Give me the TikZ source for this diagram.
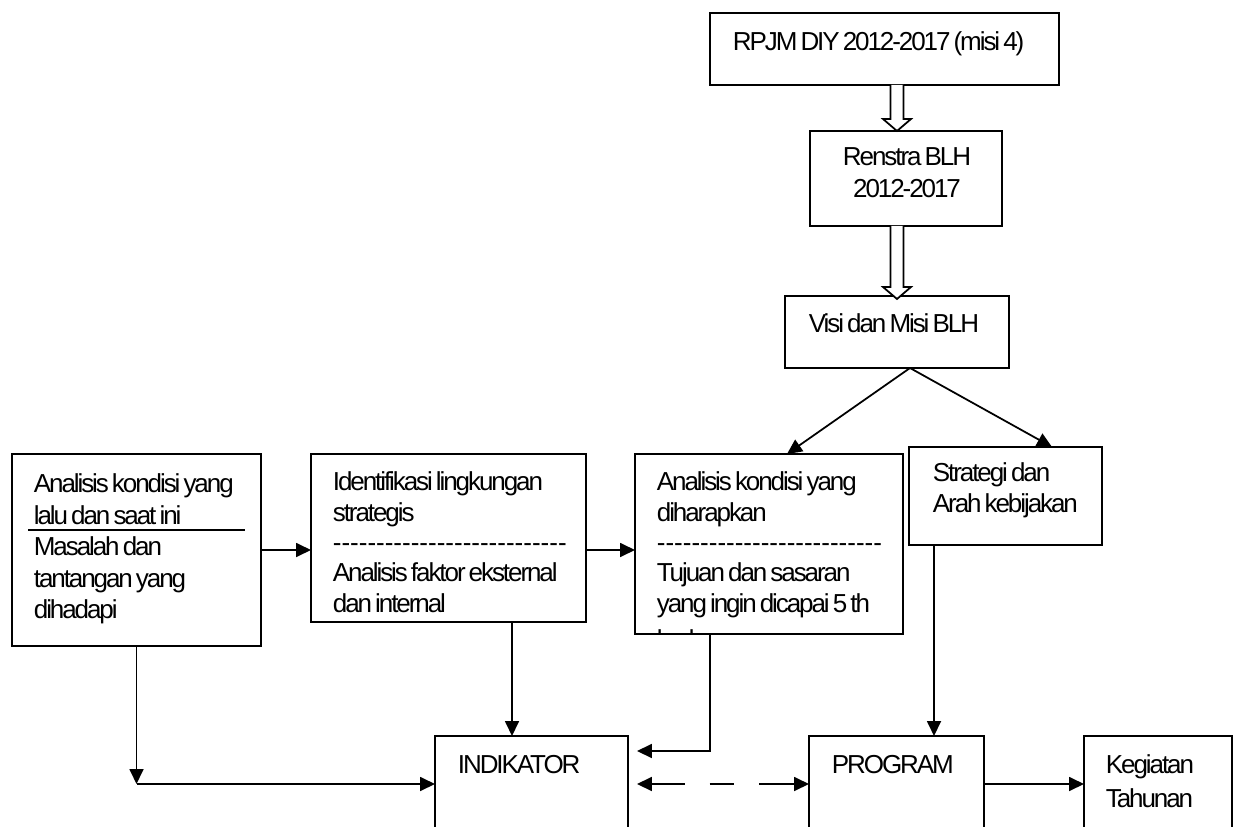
\documentclass[tikz,border=0pt]{standalone}
\usepackage{fontspec}
\setmainfont{Liberation Sans}[LetterSpace=-8]
\usetikzlibrary{arrows.meta,calc}
\newcommand\tstrut{\rule{0pt}{12pt}\spaceskip=0.12em\relax}
\newcommand\hyph[1]{\foreach\i in {1,...,#1}{\mbox{-}}}
\newcommand\fnt[1]{\fontsize{14.8pt}{#1}\selectfont}
\newcommand\hollow[2]{\draw[line width=1pt, fill=white, line join=miter]
  ($(#1)+(-6.5,0)$) -- ($(#2)+(-6.5,-12)$) -- ($(#2)+(-14,-12)$) -- (#2)
  -- ($(#2)+(14,-12)$) -- ($(#2)+(6.5,-12)$) -- ($(#1)+(6.5,0)$);}
\begin{document}
\begin{tikzpicture}[x=0.02cm, y=-0.02cm, line width=1pt,
  >={Triangle[length=3mm,width=2.8mm]},
  box/.style 2 args={draw, inner sep=0pt, outer sep=0pt, anchor=north west,
    minimum width=#1*0.02cm, minimum height=#2*0.02cm},
  txt/.style={anchor=north west, inner sep=0pt, text width=10cm, align=left,
    font=\fnt{17.3pt}}]
\useasboundingbox (0,0) rectangle (1240,827);
\clip (0,0) rectangle (1240,827);
\fill[white] (0,0) rectangle (1240,827);

% boxes
\node[box={349}{72}] (rpjm) at (710,13) {};
\node[txt] (trpjm) at (732,28.9) {\tstrut RPJM DIY 2012-2017 (misi 4)};

\node[box={192}{95}] (renstra) at (810,131) {};
\node[txt, anchor=north, text width=3.84cm, align=center,
  font=\fnt{18.2pt}] (trenstra) at (907,143.9)
  {\tstrut Renstra BLH\\2012-2017};

\node[box={224}{72}] (visi) at (785,296) {};
\node[txt] (tvisi) at (808,310.9) {\tstrut Visi dan Misi BLH};

\node[box={249}{192}] (ak) at (12,454) {};
\node[txt, font=\fnt{17.9pt}] (tak) at (33,470.9)
  {\tstrut Analisis kondisi yang\\lalu dan saat ini\\Masalah dan\\tantangan yang\\dihadapi};
\coordinate (dl) at (28,530);
\coordinate (dr) at (245,530);
\draw (dl) -- (dr);

\node[box={275}{168}] (il) at (311,454) {};
\node[txt, font=\fnt{17.24pt}] (til) at (332,468.9)
  {\tstrut Identifikasi lingkungan\\strategis\\\hyph{27}\\Analisis faktor eksternal\\dan internal};

\node[box={268}{180}] (akd) at (635,454) {};
\begin{scope}
\clip (akd.north west) rectangle (akd.south east);
\node[txt, font=\fnt{17.24pt}] (takd) at (656,468.9)
  {\tstrut Analisis kondisi yang\\diharapkan\\\hyph{26}\\Tujuan dan sasaran\\yang ingin dicapai 5 th\\[3.6pt]kedepan};
\end{scope}

\node[box={193}{98}] (strat) at (909,447) {};
\node[txt, font=\fnt{17.64pt}] (tstrat) at (932,459.9)
  {\tstrut Strategi dan\\Arah kebijakan};

\node[box={193}{120}] (ind) at (435,736) {};
\node[txt] (tind) at (457,751.9) {\tstrut INDIKATOR};

\node[box={175}{120}] (prog) at (809,736) {};
\node[txt] (tprog) at (831,751.9) {\tstrut PROGRAM};

\node[box={148}{120}] (keg) at (1084,736) {};
\node[txt, font=\fnt{19.35pt}] (tkeg) at (1105,751.9)
  {\tstrut Kegiatan\\Tahunan};

% hollow arrows
\coordinate (xh) at (897,0);
\coordinate (h1a) at (rpjm.south -| xh);
\coordinate (h1b) at (renstra.north -| xh);
\hollow{h1a}{h1b}
\coordinate (h2a) at (renstra.south -| xh);
\coordinate (h2b) at ($(visi.north -| xh)+(0,3)$);
\hollow{h2a}{h2b}

% connectors
\coordinate (xv) at (910,0);
\coordinate (va) at (visi.south -| xv);
\coordinate (xa) at (787,0);
\coordinate (xb) at (1052,0);
\draw[->] (va) -- (akd.north -| xa);
\draw[->] (va) -- (strat.north -| xb);

\coordinate (yC) at (0,550);
\draw[->] (ak.east |- yC) -- (il.west |- yC);
\draw[->] (il.east |- yC) -- (akd.west |- yC);

\coordinate (yB) at (0,784);
\coordinate (corner) at (ak.south |- yB);
\draw[->] (ak.south) -- (corner);
\draw[->] (corner) -- (ind.west |- yB);

\coordinate (x2) at (512,0);
\draw[->] (il.south -| x2) -- (ind.north -| x2);

\coordinate (x3) at (710,0);
\coordinate (yA) at (0,751);
\draw[->, shorten >=5.1pt] (akd.south -| x3) -- (x3 |- yA) -- (ind.east |- yA);

\draw[<->, dash pattern=on 18.8pt off 14.2pt on 14.2pt off 14.2pt on 40pt,
  shorten <=5.1pt] (ind.east |- yB) -- (prog.west |- yB);

\coordinate (xs) at (934,0);
\draw[->] (strat.south -| xs) -- (prog.north -| xs);
\draw[->] (prog.east |- yB) -- (keg.west |- yB);
\end{tikzpicture}
\end{document}
